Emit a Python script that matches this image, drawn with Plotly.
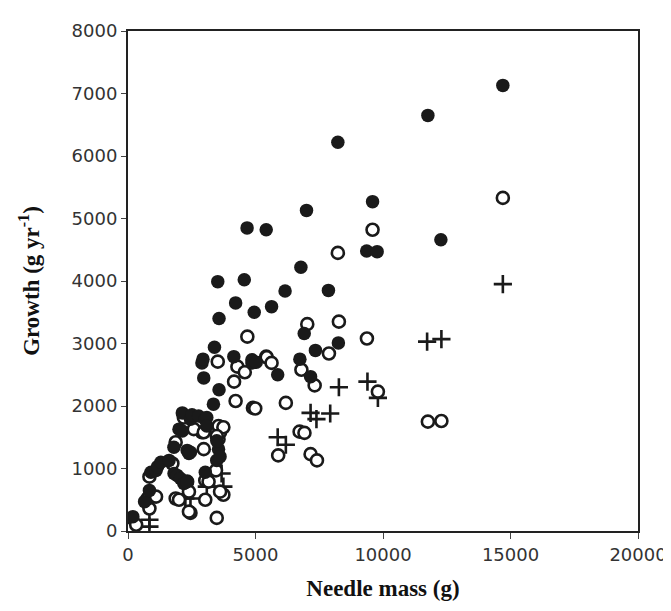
import plotly.graph_objects as go

# Filled circles
filled_x = [190, 650, 840, 900, 1100, 1160, 1290, 1610, 1800, 1805, 2320, 1930, 2060, 2190, 2320, 2390, 2450,
            2130, 2450, 2510, 2770, 3020, 3090, 2000, 2130, 3090, 3550, 3480, 3480, 3030, 3610,
            2900, 2970, 3570, 3350, 4150, 4860, 3390, 2940, 4860, 3570, 3520, 4560, 4220, 4950, 5630,
            4670, 5420, 6160, 7860, 6780, 7000, 8230, 9590, 9360, 9770, 12270, 11760, 14700,
            6740, 6910, 7350, 8250, 5870, 7160, 5030]
filled_y = [230, 470, 650, 940, 970, 1030, 1100, 1130, 1340, 920, 1290, 890, 840, 760, 790, 1240, 1260,
            1890, 1790, 1860, 1840, 1790, 1815, 1630, 1600, 1680, 1310, 1130, 1445, 940, 1190,
            2690, 2450, 2260, 2030, 2790, 2690, 2940, 2750, 2740, 3400, 3990, 4020, 3650, 3500, 3590,
            4850, 4820, 3840, 3850, 4220, 5130, 6220, 5270, 4480, 4470, 4660, 6650, 7130,
            2750, 3160, 2890, 3010, 2500, 2470, 2700]

# Open circles
open_x = [130, 320, 840, 770, 1100, 1870, 2000, 2450, 2390, 3480, 3030, 3740, 3610, 2320, 2390,
          3030, 3160, 3450, 2970, 3550, 2900, 3610, 1870, 1740, 840, 2190, 2580, 2970, 3460, 3550,
          3740, 3480, 3520, 4290, 4580, 4160, 4220, 4900, 4990, 5420, 4680, 5440, 5630, 6800,
          7320, 7880, 8270, 7030, 9370, 9800, 6190, 6730, 6920, 5890, 7160, 7410, 11760, 12290,
          8230, 9590, 14700]
open_y = [50, 100, 360, 520, 550, 520, 500, 290, 310, 210, 500, 580, 630, 790, 630,
          810, 790, 970, 1310, 1470, 1580, 1580, 1420, 1080, 870, 1815, 1630, 1580, 1600, 1680,
          1660, 1520, 2710, 2630, 2540, 2390, 2080, 1970, 1960, 2790, 3110, 2780, 2690, 2580,
          2330, 2840, 3350, 3310, 3080, 2230, 2050, 1590, 1570, 1210, 1230, 1130, 1750, 1760,
          4450, 4820, 5330]

# Pluses
plus_x = [840, 840, 2250, 2450, 3090, 3740, 3670, 5870, 6190, 7160, 7390, 7930, 8270, 9390, 9800,
          11730, 12290, 14700]
plus_y = [70, 180, 520, 520, 710, 710, 920, 1500, 1380, 1890, 1790, 1880, 2300, 2390, 2130,
          3030, 3070, 3950]

x_ticks = [0, 5000, 10000, 15000, 20000]
y_ticks = [0, 1000, 2000, 3000, 4000, 5000, 6000, 7000, 8000]

INK = "#1a1a1a"

fig = go.Figure()
fig.add_trace(go.Scatter(x=plus_x, y=plus_y, mode="markers",
                         marker=dict(symbol="cross-thin-open", size=13, color=INK,
                                     line=dict(color=INK, width=2.6))))
fig.add_trace(go.Scatter(x=open_x, y=open_y, mode="markers",
                         marker=dict(symbol="circle", size=12, color="white",
                                     line=dict(color=INK, width=2.6))))
fig.add_trace(go.Scatter(x=filled_x, y=filled_y, mode="markers",
                         marker=dict(symbol="circle", size=13.5, color=INK,
                                     line=dict(width=0))))

tickfont = dict(family="DejaVu Sans", size=18, color="#333")
titlefont = dict(family="Liberation Serif", size=23, color="#111")

fig.update_layout(
    width=671, height=611,
    margin=dict(l=120, r=34, t=17, b=88),
    paper_bgcolor="white", plot_bgcolor="white",
    showlegend=False,
    xaxis=dict(range=[0, 20000], tickvals=x_ticks, ticktext=[str(v) for v in x_ticks],
               showgrid=False, zeroline=False, showline=True, linecolor="#222", linewidth=2,
               mirror=True, ticks="outside", ticklen=6, tickwidth=1, tickcolor="#444",
               tickfont=tickfont,
               title=dict(text="<b>Needle mass (g)</b>", font=titlefont, standoff=16)),
    yaxis=dict(range=[0, 8000], tickvals=y_ticks, ticktext=[str(v) for v in y_ticks],
               showgrid=False, zeroline=False, showline=True, linecolor="#222", linewidth=2,
               mirror=True, ticks="outside", ticklen=5, tickwidth=1, tickcolor="#444",
               tickfont=tickfont,
               title=dict(text="<b>Growth (g yr<sup>-1</sup>)</b>", font=titlefont, standoff=26)),
)

fig.write_html("out.html")
